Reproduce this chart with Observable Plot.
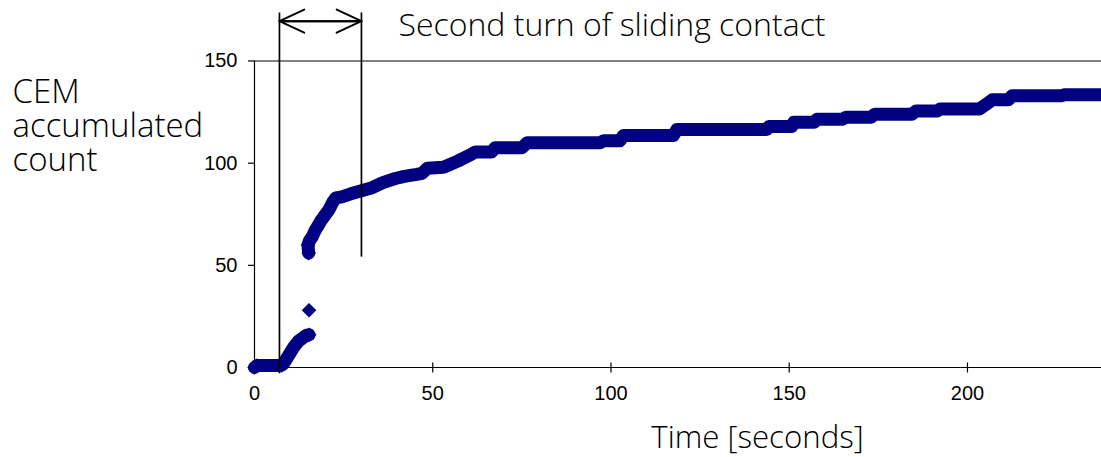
<!DOCTYPE html>
<html>
<head>
<meta charset="utf-8">
<script src="https://cdn.jsdelivr.net/npm/d3@7"></script>
<script src="https://cdn.jsdelivr.net/npm/@observablehq/plot@0.6"></script>
<style>
  html, body { margin: 0; padding: 0; background: #fff; }
</style>
</head>
<body>
<div id="chart"></div>
<script>
// CEM accumulated count recorded during sliding contact.

// Counts before contact and the first burst (first turn).
const earlyTime  = [0, 0.7, 7.5, 8.2, 9.6, 11, 12.4, 14.3, 15.3];
const earlyCount = [0, 1, 1, 2, 6, 10, 13, 15.5, 16];

// A lone reading in the middle of the jump.
const burstTime  = [15.3];
const burstCount = [28];

// Counts from the jump onwards.
const lateTime = [
  15.2, 15.0, 15.4, 16.2, 17, 18.7, 20.8, 22, 22.8, 24.5, 27, 30, 33, 36, 39.5,
  42, 45.5, 47, 48.5, 53, 55, 57, 61, 62, 66.5, 67.5, 75, 76.5, 97, 98, 102.5,
  103.5, 117.5, 118.5, 143.7, 144.3, 150.7, 151.3, 157, 157.8, 165, 166, 173,
  174, 184.5, 185.5, 191.5, 192.3, 203.3, 205, 207, 211.5, 212.5, 226.5, 227.3,
  237.6
];
const lateCount = [
  56, 60, 62, 64, 67, 72, 77, 81, 83, 83.5, 85, 86.5, 88, 90.5, 92.5,
  93.5, 94.5, 95, 97.5, 98, 99.5, 101, 104.5, 105.5, 105.5, 107.5, 107.5, 110, 110, 111, 111,
  113.5, 113.5, 116.5, 116.5, 118, 118, 120, 120, 121.5, 121.5, 122.5, 122.5,
  124, 124, 125.5, 125.5, 126.5, 126.5, 128.5, 131, 131, 133, 133, 133.5,
  133.5
];

const xTicks = [0, 50, 100, 150, 200];
const yTicks = [0, 50, 100, 150];

// Window of the second turn of the sliding contact (seconds).
const turnStart = 7;
const turnEnd = 30;
const arrowLevel = 169.5;   // count level of the double arrow
const guideTop = 173.5;     // upper end of both guide lines
const guideStartBottom = -3;
const guideEndBottom = 54;

const xMax = 237.6;
const yMax = 150;

const navy = "#000080";
const titleFont = "'Open Sans', Lato, sans-serif";
const tickFont = "'Liberation Sans', Arial, sans-serif";

const toRows = (ts, cs) => ts.map((t, i) => ({t, c: cs[i]}));
const early = toRows(earlyTime, earlyCount);
const burst = toRows(burstTime, burstCount);
const late = toRows(lateTime, lateCount);

// Tick glyph crossing the horizontal axis.
const crossTick = {
  draw(context, size) {
    const h = Math.sqrt(size / Math.PI);
    context.moveTo(0, -h);
    context.lineTo(0, h);
  }
};

const markerR = 6.6;
const traceWidth = 13;

const chart = Plot.plot({
  width: 1101,
  height: 457,
  marginLeft: 254,
  marginRight: 0,
  marginTop: 60.5,
  marginBottom: 90,
  x: {domain: [0, xMax], axis: null},
  y: {domain: [0, yMax], axis: null},
  style: {background: "white", overflow: "visible", fontFamily: tickFont, color: "black"},
  marks: [
    // axes and the top border
    Plot.ruleY([0], {stroke: "black", strokeWidth: 1.2}),
    Plot.ruleY([yMax], {stroke: "black", strokeWidth: 1.2}),
    Plot.ruleX([0], {y1: 0, y2: yMax, stroke: "black", strokeWidth: 1.2}),
    Plot.axisY(yTicks, {label: null, tickSize: 6, tickPadding: 11, fontSize: 20, fontFamily: tickFont, strokeWidth: 1.2}),
    Plot.axisX(xTicks, {label: null, tickSize: 0, tickPadding: 18, fontSize: 20, fontFamily: tickFont}),
    Plot.dot(xTicks, {x: d => d, y: 0, r: 5, symbol: crossTick, fill: "none", stroke: "black", strokeWidth: 1.2}),

    // data: dense diamond readings drawn as a thick trace, diamonds where readings stand apart
    Plot.line(early, {x: "t", y: "c", stroke: navy, strokeWidth: traceWidth, strokeLinejoin: "round"}),
    Plot.dot(early, {x: "t", y: "c", symbol: "diamond2", r: markerR, fill: navy}),
    Plot.dot(burst, {x: "t", y: "c", symbol: "diamond2", r: markerR, fill: navy}),
    Plot.line(late, {x: "t", y: "c", stroke: navy, strokeWidth: traceWidth, strokeLinejoin: "round"}),
    Plot.dot(late.slice(0, 2), {x: "t", y: "c", symbol: "diamond2", r: markerR, fill: navy}),

    // second-turn window
    Plot.ruleX([turnStart], {y1: guideStartBottom, y2: guideTop, stroke: "black", strokeWidth: 1.7}),
    Plot.ruleX([turnEnd], {y1: guideEndBottom, y2: guideTop, stroke: "black", strokeWidth: 1.7}),
    Plot.arrow([0], {x1: turnStart, x2: turnEnd, y1: arrowLevel, y2: arrowLevel,
      headLength: 30, headAngle: 50, stroke: "black", strokeWidth: 2}),
    Plot.arrow([0], {x1: turnEnd, x2: turnStart, y1: arrowLevel, y2: arrowLevel,
      headLength: 30, headAngle: 50, stroke: "black", strokeWidth: 2}),
    Plot.text(["Second turn of sliding contact"], {
      x: turnEnd, y: arrowLevel, dx: 37, dy: 5, text: d => d,
      textAnchor: "start", lineAnchor: "middle",
      fontFamily: titleFont, fontWeight: 300, fontSize: 32, fill: "black"
    }),

    // axis titles
    Plot.text(["CEM\naccumulated\ncount"], {
      frameAnchor: "top-left", dx: -242, dy: 18, text: d => d,
      textAnchor: "start", lineAnchor: "top", lineHeight: 1.03,
      fontFamily: titleFont, fontWeight: 300, fontSize: 33, fill: "black"
    }),
    Plot.text(["Time [seconds]"], {
      frameAnchor: "bottom", dx: 79.5, dy: 71, text: d => d,
      textAnchor: "middle", lineAnchor: "middle",
      fontFamily: titleFont, fontWeight: 300, fontSize: 31.2, fill: "black"
    })
  ]
});

document.getElementById("chart").appendChild(chart);
</script>
</body>
</html>
